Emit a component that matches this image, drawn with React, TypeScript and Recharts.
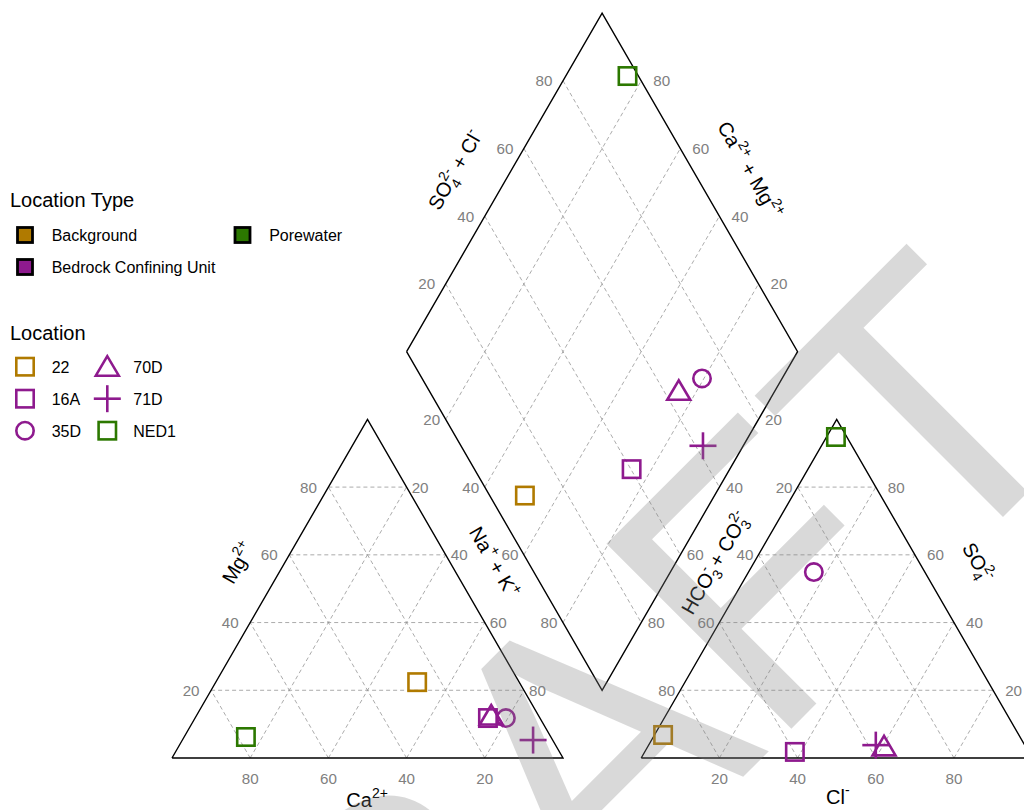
import React from "react";
import { ReferenceLine, Scatter, ScatterChart, XAxis, YAxis } from "recharts";

// sample chemistry, percent of major cations / anions
const sampleNames = ["22", "16A", "35D", "70D", "71D", "NED1"];
const sampleTypes = [
  "Background",
  "Bedrock Confining Unit",
  "Bedrock Confining Unit",
  "Bedrock Confining Unit",
  "Bedrock Confining Unit",
  "Porewater",
];
const sampleShapes = ["square", "square", "circle", "triangle", "plus", "square"];
const caPct = [26.1, 13.3, 8.7, 12.3, 5.0, 78.0];
const mgPct = [22.4, 11.8, 11.8, 12.1, 5.3, 6.2];
const naKPct = [51.5, 74.9, 79.5, 75.6, 89.7, 15.8];
const clPct = [2.2, 38.4, 16.7, 60.6, 58.1, 2.4];
const so4Pct = [6.8, 1.8, 54.9, 3.0, 3.8, 94.8];
const hco3Pct = [91.0, 59.8, 28.4, 36.4, 38.1, 2.8];

const typeNames = ["Background", "Bedrock Confining Unit", "Porewater"];
const typeColors = ["#b07a00", "#8e1a8e", "#2c7800"];
const gridTicks = [20, 40, 60, 80];

const FONT = "'Liberation Sans', Arial, Helvetica, sans-serif";
const H = Math.sqrt(3) / 2;
const GAP = 20;
const PX = 3.91; // pixels per percent unit
const ORIGIN_X = 164;
const ORIGIN_Y = 750;
const CHART_W = 1040;
const CHART_H = 830;
const X_DOMAIN = [-ORIGIN_X / PX, (CHART_W - ORIGIN_X) / PX];
const Y_DOMAIN = [(ORIGIN_Y - CHART_H) / PX, ORIGIN_Y / PX];

type P = { x: number; y: number };

const cationXY = (ca: number, mg: number, nak: number): P => {
  const s = ca + mg + nak;
  const m = (mg / s) * 100;
  const n = (nak / s) * 100;
  return { x: n + m / 2, y: m * H };
};
const anionXY = (cl: number, so4: number, hco3: number): P => {
  const s = cl + so4 + hco3;
  const c = (cl / s) * 100;
  const o = (so4 / s) * 100;
  return { x: 100 + GAP + c + o / 2, y: o * H };
};
// diamond: c = Na+K %, a = SO4+Cl %
const DL: P = { x: 50 + GAP / 2, y: (100 + GAP) * H };
const diamondXY = (c: number, a: number): P => ({
  x: DL.x + 0.5 * c + 0.5 * a,
  y: DL.y + H * (a - c),
});

const cationOutline = [
  { x: 0, y: 0 },
  { x: 100, y: 0 },
  { x: 50, y: 100 * H },
  { x: 0, y: 0 },
];
const anionOutline = cationOutline.map((p) => ({ x: p.x + 100 + GAP, y: p.y }));
const diamondOutline = [diamondXY(0, 0), diamondXY(100, 0), diamondXY(100, 100), diamondXY(0, 100), diamondXY(0, 0)];

// dashed grid segments
const gridSegs: [P, P][] = [];
for (const t of gridTicks) {
  const u = 100 - t;
  for (const off of [0, 100 + GAP]) {
    gridSegs.push([{ x: off + t / 2, y: t * H }, { x: off + 100 - t / 2, y: t * H }]);
    gridSegs.push([{ x: off + t, y: 0 }, { x: off + t + u / 2, y: u * H }]);
    gridSegs.push([{ x: off + u, y: 0 }, { x: off + u / 2, y: u * H }]);
  }
  gridSegs.push([diamondXY(t, 0), diamondXY(t, 100)]);
  gridSegs.push([diamondXY(0, t), diamondXY(100, t)]);
}

type Lbl = { x: number; y: number; label: string; dx: number; dy: number };
const tickLabels: Lbl[] = [];
for (const t of gridTicks) {
  const u = 100 - t;
  const s = String(t);
  const A = 100 + GAP;
  // cation
  tickLabels.push({ x: t / 2, y: t * H, label: s, dx: -20, dy: 0 });
  tickLabels.push({ x: t + u / 2, y: u * H, label: s, dx: 13.5, dy: 0 });
  tickLabels.push({ x: u, y: 0, label: s, dx: 0, dy: 21 });
  // anion
  tickLabels.push({ x: A + u / 2, y: u * H, label: s, dx: -13.5, dy: 0 });
  tickLabels.push({ x: A + u + t / 2, y: t * H, label: s, dx: 20.5, dy: 0 });
  tickLabels.push({ x: A + t, y: 0, label: s, dx: 0, dy: 21 });
  // diamond
  tickLabels.push({ ...diamondXY(0, t), label: s, dx: -19, dy: 0 });
  tickLabels.push({ ...diamondXY(u, 100), label: s, dx: 20.5, dy: 0 });
  tickLabels.push({ ...diamondXY(t, 0), label: s, dx: -14, dy: 0 });
  tickLabels.push({ ...diamondXY(100, u), label: s, dx: 15, dy: 0 });
}

type Part = { t: string; k?: "sup" | "sub"; dx?: number };
const axisTitles: { x: number; y: number; angle: number; parts: Part[] }[] = [
  { x: 49.9, y: -10.7, angle: 0, parts: [{ t: "Ca" }, { t: "2+", k: "sup" }] },
  { x: 16.9, y: 49.9, angle: -60, parts: [{ t: "Mg" }, { t: "2+", k: "sup" }] },
  { x: 82.4, y: 50.1, angle: 60, parts: [{ t: "Na" }, { t: "+", k: "sup" }, { t: " + K" }, { t: "+", k: "sup" }] },
  {
    x: 72.4,
    y: 150.4,
    angle: -60,
    parts: [{ t: "SO" }, { t: "4", k: "sub" }, { t: "2-", k: "sup", dx: -7.8 }, { t: " + Cl" }, { t: "-", k: "sup" }],
  },
  {
    x: 147.8,
    y: 150.4,
    angle: 60,
    parts: [{ t: "Ca" }, { t: "2+", k: "sup" }, { t: " + Mg" }, { t: "2+", k: "sup" }],
  },
  {
    x: 138.9,
    y: 49.9,
    angle: -60,
    parts: [
      { t: "HCO" },
      { t: "3", k: "sub" },
      { t: "-", k: "sup", dx: -7.8 },
      { t: "  + CO" },
      { t: "3", k: "sub" },
      { t: "2-", k: "sup", dx: -7.8 },
    ],
  },
  { x: 206.1, y: 50.1, angle: 60, parts: [{ t: "SO" }, { t: "4", k: "sub" }, { t: "2-", k: "sup", dx: -7.8 }] },
  { x: 170.3, y: -10, angle: 0, parts: [{ t: "Cl" }, { t: "-", k: "sup" }] },
];

function Rich({ parts, size }: { parts: Part[]; size: number }) {
  let cur = 0;
  return (
    <>
      {parts.map((p, i) => {
        const target = p.k === "sup" ? -0.45 * size : p.k === "sub" ? 0.28 * size : 0;
        const dy = target - cur;
        cur = target;
        return (
          <tspan key={i} dy={dy} dx={p.dx ?? 0} fontSize={p.k ? size * 0.7 : size}>
            {p.t}
          </tspan>
        );
      })}
    </>
  );
}

function Marker({ cx, cy, kind, color }: { cx: number; cy: number; kind: string; color: string }) {
  const sw = 2.6;
  if (kind === "circle") return <circle cx={cx} cy={cy} r={8.7} fill="none" stroke={color} strokeWidth={sw} />;
  if (kind === "triangle")
    return (
      <polygon
        points={`${cx},${cy - 12} ${cx - 11.5},${cy + 7.5} ${cx + 11.5},${cy + 7.5}`}
        fill="none"
        stroke={color}
        strokeWidth={sw}
        strokeLinejoin="miter"
      />
    );
  if (kind === "plus")
    return (
      <g stroke={color} strokeWidth={sw}>
        <line x1={cx - 13.5} y1={cy} x2={cx + 13.5} y2={cy} />
        <line x1={cx} y1={cy - 13.5} x2={cx} y2={cy + 13.5} />
      </g>
    );
  return <rect x={cx - 8.7} y={cy - 8.7} width={17.4} height={17.4} fill="none" stroke={color} strokeWidth={sw} />;
}

const NoDot = () => <g />;

const TickText = (props: any) => {
  const { cx, cy, payload } = props;
  return (
    <text
      x={cx + payload.dx}
      y={cy + payload.dy + 5.4}
      textAnchor="middle"
      fontSize={15.2}
      fill="#808080"
      fontFamily={FONT}
    >
      {payload.label}
    </text>
  );
};

const TitleText = (props: any) => {
  const { cx, cy, payload } = props;
  return (
    <text
      x={cx}
      y={cy + 7}
      transform={`rotate(${payload.angle} ${cx} ${cy})`}
      textAnchor="middle"
      fill="#000"
      fontFamily={FONT}
    >
      <Rich parts={payload.parts} size={20} />
    </text>
  );
};

const colorOf = (type: string) => typeColors[typeNames.indexOf(type)];

const sampleSeries = sampleNames.map((name, i) => {
  const cat = cationXY(caPct[i], mgPct[i], naKPct[i]);
  const an = anionXY(clPct[i], so4Pct[i], hco3Pct[i]);
  const nak = (naKPct[i] / (caPct[i] + mgPct[i] + naKPct[i])) * 100;
  const sc = ((so4Pct[i] + clPct[i]) / (clPct[i] + so4Pct[i] + hco3Pct[i])) * 100;
  return { name, kind: sampleShapes[i], color: colorOf(sampleTypes[i]), pts: [cat, an, diamondXY(nak, sc)] };
});

function LegendBox() {
  const rowY = [358.7, 390.7, 422.7];
  const col1 = [0, 1, 2];
  const col2 = [3, 4, 5];
  return (
    <svg width={360} height={460} style={{ position: "absolute", left: 0, top: 0 }} fontFamily={FONT}>
      <text x={2} y={199} fontSize={20}>Location Type</text>
      {[
        { name: typeNames[0], x: 17, y: 227, color: typeColors[0] },
        { name: typeNames[1], x: 17, y: 259, color: typeColors[1] },
        { name: typeNames[2], x: 234.5, y: 227, color: typeColors[2] },
      ].map((k) => (
        <g key={k.name}>
          <rect x={k.x - 7.5} y={k.y - 7.5} width={15} height={15} fill={k.color} stroke="#000" strokeWidth={2.8} />
          <text x={k.x + 26.7} y={k.y + 6} fontSize={16}>
            {k.name}
          </text>
        </g>
      ))}
      <text x={2} y={332} fontSize={20}>Location</text>
      {col1.map((i, r) => (
        <g key={sampleNames[i]}>
          <Marker cx={17} cy={rowY[r]} kind={sampleSeries[i].kind} color={sampleSeries[i].color} />
          <text x={43.7} y={rowY[r] + 6} fontSize={16}>
            {sampleNames[i]}
          </text>
        </g>
      ))}
      {col2.map((i, r) => (
        <g key={sampleNames[i]}>
          <Marker cx={99.3} cy={rowY[r] + (sampleSeries[i].kind === "triangle" ? 1.5 : 0)} kind={sampleSeries[i].kind} color={sampleSeries[i].color} />
          <text x={125.3} y={rowY[r] + 6} fontSize={16}>
            {sampleNames[i]}
          </text>
        </g>
      ))}
    </svg>
  );
}

export default function App() {
  return (
    <div
      style={{
        position: "fixed",
        left: 8,
        top: 8,
        width: 1016,
        height: 802,
        overflow: "hidden",
        fontFamily: FONT,
        background: "#fff",
      }}
    >
      <ScatterChart width={CHART_W} height={CHART_H} margin={{ top: 0, right: 0, bottom: 0, left: 0 }}>
        <XAxis type="number" dataKey="x" domain={X_DOMAIN} allowDataOverflow hide />
        <YAxis type="number" dataKey="y" domain={Y_DOMAIN} allowDataOverflow hide />
        {gridSegs.map((s, i) => (
          <ReferenceLine
            key={"g" + i}
            segment={s}
            stroke="#959595"
            strokeWidth={0.8}
            strokeDasharray="4 3"
            ifOverflow="visible"
          />
        ))}
        {[cationOutline, anionOutline, diamondOutline].map((d, i) => (
          <Scatter
            key={"o" + i}
            data={d}
            line={{ stroke: "#000", strokeWidth: 1.4 }}
            shape={NoDot}
            isAnimationActive={false}
          />
        ))}
        <Scatter data={tickLabels} shape={TickText} isAnimationActive={false} />
        <Scatter data={axisTitles} shape={TitleText} isAnimationActive={false} />
        {sampleSeries.map((s) => (
          <Scatter
            key={s.name}
            name={s.name}
            data={s.pts}
            isAnimationActive={false}
            shape={(p: any) => <Marker cx={p.cx} cy={p.cy} kind={s.kind} color={s.color} />}
          />
        ))}
      </ScatterChart>
      <LegendBox />
      <svg
        width={1016}
        height={802}
        style={{ position: "absolute", left: 0, top: 0, pointerEvents: "none" }}
      >
        <text
          x={194}
          y={1310}
          transform="rotate(-45 194 1310)"
          fontSize={380}
          fontFamily={FONT}
          fill="#808080"
          fillOpacity={0.3}
        >
          DRAFT
        </text>
      </svg>
    </div>
  );
}
